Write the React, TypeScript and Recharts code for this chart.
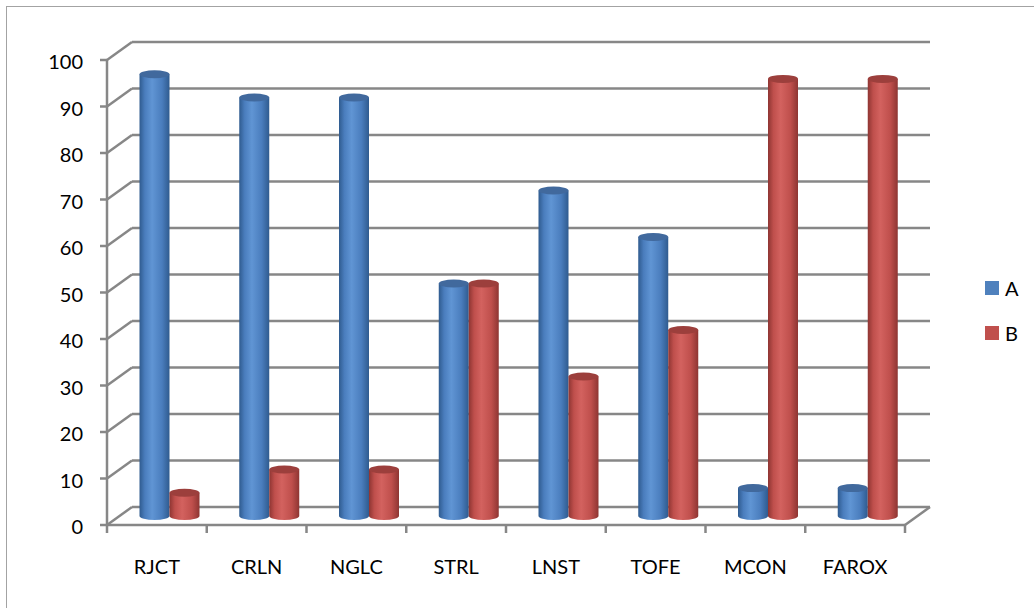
import React from "react";
import { BarChart, Bar, XAxis, YAxis, CartesianGrid, Legend } from "recharts";

const categories = ["RJCT", "CRLN", "NGLC", "STRL", "LNST", "TOFE", "MCON", "FAROX"];
const seriesA = [95, 90, 90, 50, 70, 60, 6, 6];
const seriesB = [5, 10, 10, 50, 30, 40, 94, 94];
const yTicks = [0, 10, 20, 30, 40, 50, 60, 70, 80, 90, 100];

const data = categories.map((name, i) => ({ name, A: seriesA[i], B: seriesB[i] }));

const FONT = "Lato, 'Open Sans', sans-serif";
const GRID = "#878787";
// 3D depth of the back wall, and half depth where the cylinders stand
const DX = 25;
const DY = 18;
const BAND = (905 - 107) / categories.length;

const PALETTE: Record<string, { edge: string; mid: string; light: string; top: string }> = {
  A: { edge: "#2f5b8f", mid: "#4a7dbd", light: "#6095d4", top: "#41699d" },
  B: { edge: "#8e3532", mid: "#bf4f4c", light: "#d3625f", top: "#9c3f3c" },
};

function Cylinder(props: any) {
  const { x, y, width, height, dataKey } = props;
  if (width == null || height == null) return null;
  const c = PALETTE[dataKey] || PALETTE.A;
  const id = "cyl-" + dataKey;
  const cx = x + DX / 2;
  const top = y - DY / 2;
  const bottom = y + height - DY / 2;
  const rx = width / 2;
  const ry = 4;
  return (
    <g>
      <defs>
        <linearGradient id={id} x1="0" y1="0" x2="1" y2="0">
          <stop offset="0%" stopColor={c.edge} />
          <stop offset="18%" stopColor={c.mid} />
          <stop offset="42%" stopColor={c.light} />
          <stop offset="75%" stopColor={c.mid} />
          <stop offset="100%" stopColor={c.edge} />
        </linearGradient>
      </defs>
      <path
        d={`M${cx},${top} L${cx},${bottom} A${rx},${ry} 0 0 0 ${cx + width},${bottom} L${cx + width},${top} Z`}
        fill={`url(#${id})`}
      />
      <ellipse cx={cx + rx} cy={top} rx={rx} ry={ry} fill={c.top} />
    </g>
  );
}

function YTick(props: any) {
  const { x, y, payload } = props;
  return (
    <g>
      <line x1={x - 7} y1={y} x2={x} y2={y} stroke={GRID} strokeWidth={2.5} />
      <line x1={x} y1={y} x2={x + DX} y2={y - DY} stroke={GRID} strokeWidth={2.5} />
      <text x={x - 24} y={y + 9} textAnchor="end" fontSize={20} fontFamily={FONT} fill="#000">
        {payload.value}
      </text>
    </g>
  );
}

function XTick(props: any) {
  const { x, y, payload, index } = props;
  const left = x - BAND / 2;
  const right = x + BAND / 2;
  const last = index === categories.length - 1;
  return (
    <g>
      <line x1={left} y1={y} x2={left} y2={y + 8} stroke={GRID} strokeWidth={2.5} />
      {last && <line x1={right} y1={y} x2={right} y2={y + 8} stroke={GRID} strokeWidth={2.5} />}
      {last && <line x1={right} y1={y} x2={right + DX} y2={y - DY} stroke={GRID} strokeWidth={2.5} />}
      <text x={x} y={y + 49} textAnchor="middle" fontSize={20} fontFamily={FONT} fill="#000">
        {payload.value}
      </text>
    </g>
  );
}

function BackGridLine(props: any) {
  const { x1, y1, x2, y2, index } = props;
  return (
    <line
      key={"g" + index + "-" + y1}
      x1={x1 + DX}
      y1={y1 - DY}
      x2={x2 + DX}
      y2={y2 - DY}
      stroke={GRID}
      strokeWidth={2.5}
    />
  );
}

function LegendBox(props: any) {
  const items = props.payload || [];
  return (
    <div style={{ fontFamily: FONT, fontSize: 20, color: "#000" }}>
      {items.map((it: any) => (
        <div key={it.value} style={{ display: "flex", alignItems: "center", height: 20, marginBottom: 25 }}>
          <span style={{ width: 14, height: 14, background: it.color, display: "inline-block", marginRight: 6 }} />
          <span>{it.value}</span>
        </div>
      ))}
    </div>
  );
}

export default function App() {
  return (
    <div style={{ position: "absolute", left: 0, top: 0, width: 1034, height: 608, overflow: "hidden", background: "#fff" }}>
      <div
        style={{
          position: "absolute",
          left: 6,
          top: 6,
          width: 1060,
          height: 640,
          border: "1.5px solid #a3a3a3",
        }}
      />
      <BarChart
        width={1034}
        height={608}
        data={data}
        margin={{ top: 60, right: 129, bottom: 43, left: 47 }}
        barSize={30}
        barGap={0}
        style={{ position: "absolute", left: 0, top: 0 }}
      >
        <CartesianGrid vertical={false} horizontal={BackGridLine} />
        <XAxis
          dataKey="name"
          height={40}
          tickSize={0}
          tickMargin={0}
          tickLine={false}
          axisLine={{ stroke: GRID, strokeWidth: 2.5 }}
          tick={XTick}
          interval={0}
        />
        <YAxis
          width={60}
          domain={[0, 100]}
          ticks={yTicks}
          tickSize={0}
          tickMargin={0}
          tickLine={false}
          axisLine={{ stroke: GRID, strokeWidth: 2.5 }}
          tick={YTick}
          interval={0}
        />
        <Legend
          layout="vertical"
          align="center"
          verticalAlign="middle"
          content={LegendBox}
          wrapperStyle={{ left: 985, top: 278, width: 50 }}
        />
        <Bar dataKey="A" name="A" fill="#4F81BD" shape={Cylinder} isAnimationActive={false} />
        <Bar dataKey="B" name="B" fill="#C0504D" shape={Cylinder} isAnimationActive={false} />
      </BarChart>
    </div>
  );
}
